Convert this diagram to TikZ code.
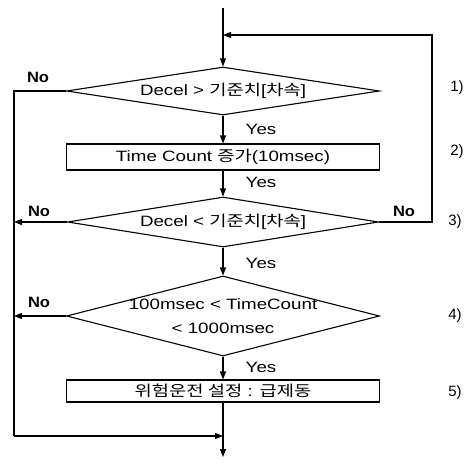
\documentclass[tikz,border=0pt]{standalone}
\usepackage{fontspec}
\setmainfont{Liberation Sans}
\newfontfamily\kr{Noto Sans CJK KR}
\usetikzlibrary{shapes.geometric,arrows.meta}
\newcommand{\widetxt}[1]{\scalebox{1.25}[1]{#1}}
\begin{document}
\begin{tikzpicture}[x=1pt,y=-1pt,line width=1.1pt,
  dia/.style={draw,diamond,inner sep=0pt,minimum width=313pt},
  boxnode/.style={draw,rectangle,inner sep=0pt,minimum width=313pt},
  txt/.style={inner sep=0pt,font=\fontsize{15}{24}\selectfont,align=center},
  yes/.style={inner sep=0pt,font=\fontsize{15}{18}\selectfont},
  no/.style={inner sep=0pt,font=\fontsize{15}{18}\selectfont\bfseries},
  stepno/.style={inner sep=0pt,font=\fontsize{15}{18}\selectfont},
  arr/.style={-{Triangle[length=8pt,width=6pt]}}]
\useasboundingbox (0,0) rectangle (473,463);
% shapes
\node[dia,minimum height=48pt] (d1) at (223,91) {};
\node[txt] (t1) at (d1) {\widetxt{Decel > {\kr 기준치}[{\kr 차속}]}};
\node[boxnode,minimum height=26pt] (b1) at (223,157) {};
\node[txt] (t2) at (b1) {\widetxt{Time Count {\kr 증가}(10msec)}};
\node[dia,minimum height=50pt,minimum width=311pt] (d2) at (223,222) {};
\node[txt] (t3) at (d2) {\widetxt{Decel < {\kr 기준치}[{\kr 차속}]}};
\node[dia,minimum height=80pt] (d3) at (223,316) {};
\node[txt] (t4) at (d3) {\widetxt{100msec < TimeCount}\\\widetxt{< 1000msec}};
\node[boxnode,minimum height=22pt] (b2) at (223,391) {};
\node[txt] (t5) at (b2) {\widetxt{{\kr 위험운전 설정} : {\kr 급제동}}};
% coordinates
\coordinate (top) at (223,8);
\coordinate (fb) at (223,35);
\coordinate (rc) at (432,35);
\coordinate (lt) at (14,91);
\coordinate (lb) at (14,436);
\coordinate (mb) at (223,436);
\coordinate (end) at (223,457);
% connectors
\draw[arr] (top) -- (d1.north);
\draw[arr] (d2.east) -| (rc) -- (fb);
\draw (d1.west) -- (lt) -- (lb);
\draw[arr] (lb) -- (mb);
\draw[arr] (d2.west) -- (d2.west -| lt);
\draw[arr] (d3.west) -- (d3.west -| lt);
\draw[arr] (d1.south) -- (b1.north);
\draw[arr] (b1.south) -- (d2.north);
\draw[arr] (d2.south) -- (d3.north);
\draw[arr] (d3.south) -- (b2.north);
\draw (b2.south) -- (mb);
\draw[arr] (mb) -- (end);
% labels
\node[no] (n1) at (38,77) {\scalebox{1.1}[1]{No}};
\node[yes] (y1) at (261,129) {\widetxt{Yes}};
\node[yes] (y2) at (261,182) {\widetxt{Yes}};
\node[no] (n2) at (39,211) {\scalebox{1.1}[1]{No}};
\node[no] (n3) at (404,211) {\scalebox{1.1}[1]{No}};
\node[yes] (y3) at (261,263) {\widetxt{Yes}};
\node[no] (n4) at (39,302) {\scalebox{1.1}[1]{No}};
\node[yes] (y4) at (261,367) {\widetxt{Yes}};
\node[stepno] (s1) at (457,88) {1)};
\node[stepno] (s2) at (457,152) {2)};
\node[stepno] (s3) at (455,222) {3)};
\node[stepno] (s4) at (455,316) {4)};
\node[stepno] (s5) at (455,393) {5)};
\end{tikzpicture}
\end{document}
